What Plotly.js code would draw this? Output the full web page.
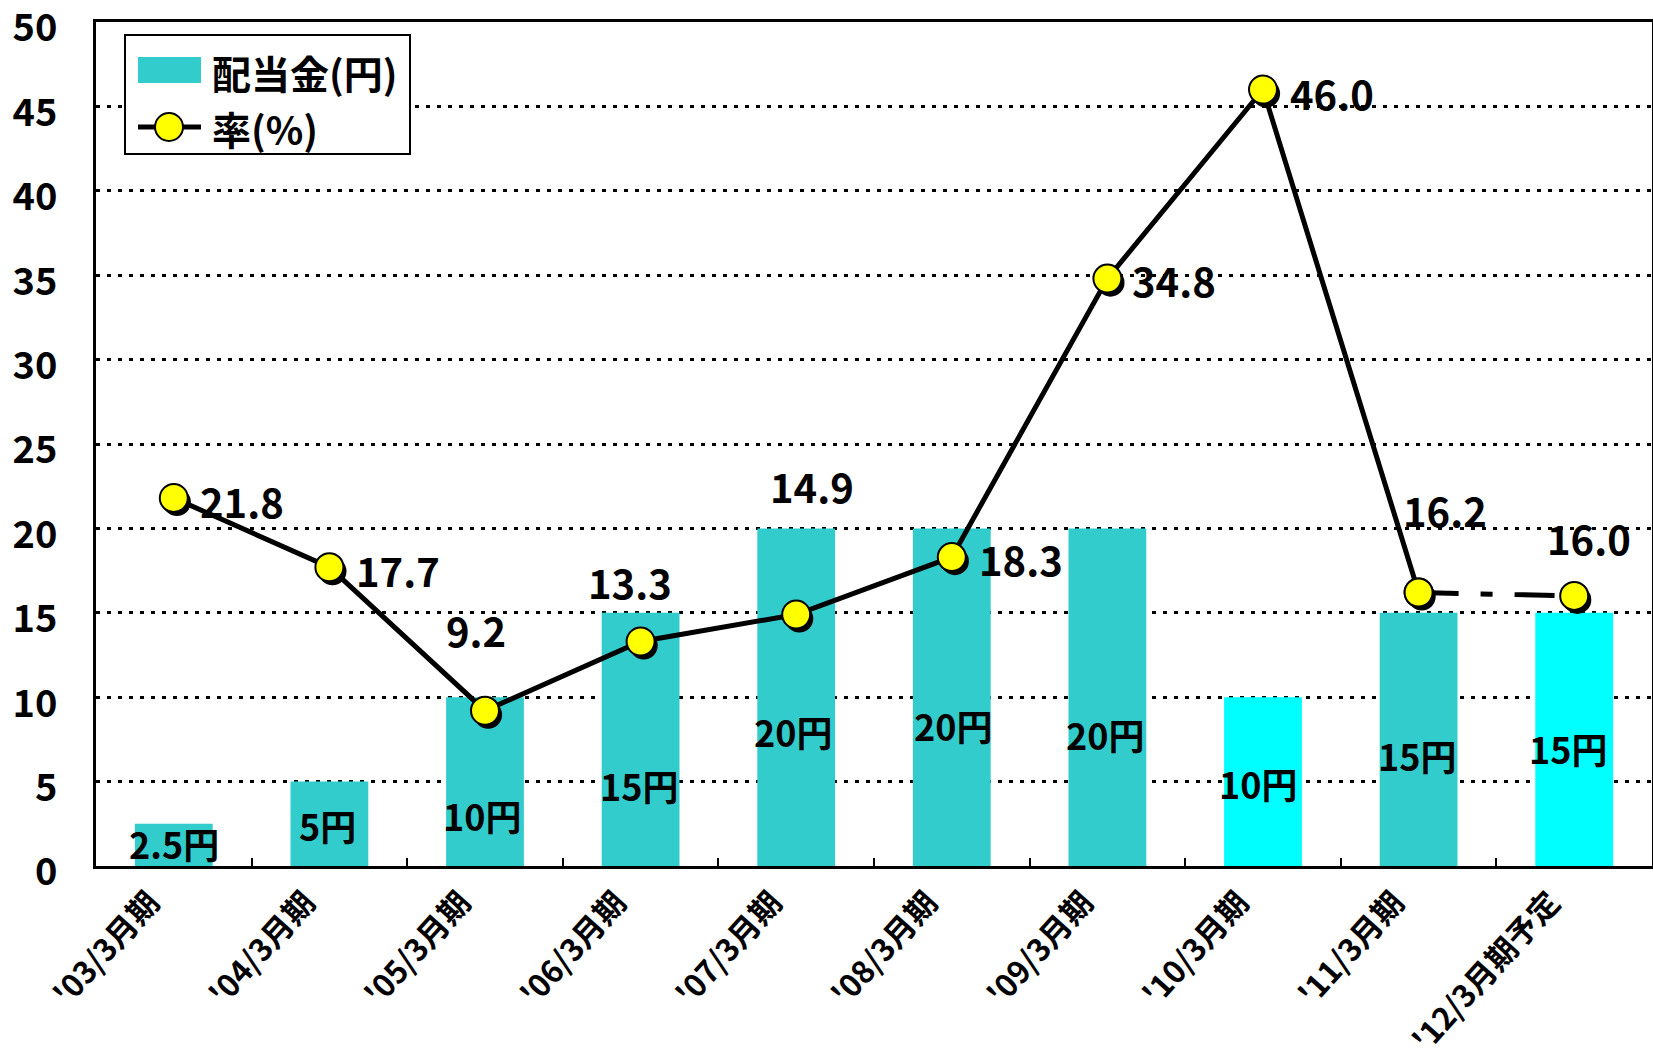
<!DOCTYPE html>
<html>
<head>
<meta charset="utf-8">
<script src="https://cdn.plot.ly/plotly-3.0.1.min.js"></script>
<style>html,body{margin:0;padding:0;background:#fff;}#chart{width:1653px;height:1060px;}</style>
</head>
<body>
<div id="chart"></div>
<script>
// ---- data ----
const categories = ["'03/3月期", "'04/3月期", "'05/3月期", "'06/3月期", "'07/3月期",
                    "'08/3月期", "'09/3月期", "'10/3月期", "'11/3月期", "'12/3月期予定"];
const dividends = [2.5, 5, 10, 15, 20, 20, 20, 10, 15, 15];
const payoutRates = [21.8, 17.7, 9.2, 13.3, 14.9, 18.3, 34.8, 46.0, 16.2, 16.0];
const yTickValues = [0, 5, 10, 15, 20, 25, 30, 35, 40, 45, 50];
const dividendName = "配当金(円)";
const rateName = "率(%)";

// ---- styles (not data) ----
const TEAL = "#33CCCC", CYAN = "#00FFFF", YELLOW = "#FFFF00";
const barColors = [TEAL, TEAL, TEAL, TEAL, TEAL, TEAL, TEAL, CYAN, TEAL, CYAN];
const rateLabelShift = [[68, -3], [69, -3], [-9, 81], [-11, 60], [16, 128],
                        [69, -2], [67, -1], [69, -3], [26, 83], [15, 58]];
const barLabelShift = [[0, 23], [-2, 41], [-3, 51], [-2, 81], [-3, 135],
                       [1, 141], [-2, 132], [-5, 83], [-2, 111], [-6, 118]];
const FONT = "'Noto Sans CJK JP', 'Noto Sans', sans-serif";

const W = 1653, H = 1060;
const M = {l: 96, r: 1, t: 22, b: 194};
const px = v => (v - M.l) / (W - M.l - M.r);
const py = v => 1 - (v - M.t) / (H - M.t - M.b);

const solidCount = payoutRates.length - 1;
const markerStyle = {color: YELLOW, size: 28, line: {color: "#000", width: 2}};

const traces = [
  {
    type: "bar", x: categories, y: dividends, name: dividendName, showlegend: false,
    marker: {color: barColors, line: {width: 0}}, width: 0.5,
    xaxis: "x", yaxis: "y", hoverinfo: "skip"
  },
  { // marker shadows
    type: "scatter", mode: "markers", x: categories, y: payoutRates,
    marker: {color: "#000", size: 28}, showlegend: false,
    xaxis: "x2", yaxis: "y2", hoverinfo: "skip"
  },
  {
    type: "scatter", mode: "lines+markers", name: rateName, showlegend: false,
    x: categories.slice(0, solidCount), y: payoutRates.slice(0, solidCount),
    line: {color: "#000", width: 5}, marker: markerStyle,
    xaxis: "x3", yaxis: "y3", hoverinfo: "skip"
  },
  {
    type: "scatter", mode: "lines+markers", showlegend: false,
    x: categories.slice(solidCount - 1), y: payoutRates.slice(solidCount - 1),
    line: {color: "#000", width: 5, dash: "40px,22px,12px,22px"}, marker: markerStyle,
    xaxis: "x3", yaxis: "y3", hoverinfo: "skip"
  }
];

const annotations = [];
payoutRates.forEach((v, i) => {
  annotations.push({
    x: categories[i], y: v, xref: "x", yref: "y", showarrow: false,
    text: v.toFixed(1), xshift: rateLabelShift[i][0], yshift: rateLabelShift[i][1],
    font: {family: FONT, size: 40, color: "#000", weight: "bold"}
  });
});
dividends.forEach((v, i) => {
  annotations.push({
    x: categories[i], y: 0, xref: "x", yref: "y", showarrow: false,
    text: v + "円", xshift: barLabelShift[i][0], yshift: barLabelShift[i][1],
    font: {family: FONT, size: 36, color: "#000", weight: "bold"}
  });
});

// ---- hand-built legend (box, swatches, texts) ----
const legendFont = {family: FONT, size: 39, color: "#000", weight: "bold"};
annotations.push(
  {xref: "paper", yref: "paper", x: px(210), y: py(72), xanchor: "left", yanchor: "middle",
   showarrow: false, text: dividendName, font: legendFont},
  {xref: "paper", yref: "paper", x: px(210), y: py(128), xanchor: "left", yanchor: "middle",
   showarrow: false, text: rateName, font: legendFont}
);
const shapes = [
  {type: "rect", xref: "paper", yref: "paper", x0: px(125), x1: px(410), y0: py(35), y1: py(154),
   fillcolor: "#fff", line: {color: "#000", width: 2}, layer: "above"},
  {type: "rect", xref: "paper", yref: "paper", x0: px(138), x1: px(201), y0: py(57), y1: py(83),
   fillcolor: TEAL, line: {width: 0}, layer: "above"},
  {type: "line", xref: "paper", yref: "paper", x0: px(138), x1: px(201), y0: py(127), y1: py(127),
   line: {color: "#000", width: 5}, layer: "above"},
  {type: "circle", xref: "paper", yref: "paper", xsizemode: "pixel", ysizemode: "pixel",
   xanchor: px(169), yanchor: py(127), x0: -14, x1: 14, y0: -14, y1: 14,
   fillcolor: YELLOW, line: {color: "#000", width: 2}, layer: "above"}
];

const catRange = [-0.5, categories.length - 0.5];
const layout = {
  width: W, height: H,
  margin: {l: M.l, r: M.r, t: M.t, b: M.b, pad: 0},
  paper_bgcolor: "#fff", plot_bgcolor: "#fff",
  font: {family: FONT, color: "#000", weight: "bold"},
  showlegend: false,
  xaxis: {
    type: "category", categoryarray: categories, range: catRange,
    showline: true, linecolor: "#000", linewidth: 3, mirror: true,
    tickson: "boundaries", ticks: "inside", ticklen: 8, tickwidth: 2, tickcolor: "#000",
    tickangle: -48, showgrid: false, zeroline: false,
    ticklabelshift: -24, ticklabelstandoff: 3,
    tickfont: {family: FONT, size: 31, color: "#000", weight: "bold"}
  },
  yaxis: {
    range: [0, 50], tickmode: "array", tickvals: yTickValues,
    showline: true, linecolor: "#000", linewidth: 3, mirror: true,
    showgrid: true, gridcolor: "#000", gridwidth: 3, griddash: "4px,7px",
    zeroline: false, ticks: "", ticklabelstandoff: 28, ticklabelshift: 6,
    ticklabeloverflow: "allow",
    tickfont: {family: FONT, size: 38, color: "#000", weight: "bold"}
  },
  xaxis2: {
    type: "category", categoryarray: categories, overlaying: "x", anchor: "y2",
    range: [catRange[0] - 0.02, catRange[1] - 0.02], visible: false
  },
  yaxis2: {overlaying: "y", anchor: "x2", range: [0.24, 50.24], visible: false},
  xaxis3: {
    type: "category", categoryarray: categories, overlaying: "x", anchor: "y3",
    range: catRange, visible: false
  },
  yaxis3: {overlaying: "y", anchor: "x3", range: [0, 50], visible: false},
  annotations: annotations,
  shapes: shapes
};

Plotly.newPlot("chart", traces, layout, {staticPlot: true, displayModeBar: false});
</script>
</body>
</html>
